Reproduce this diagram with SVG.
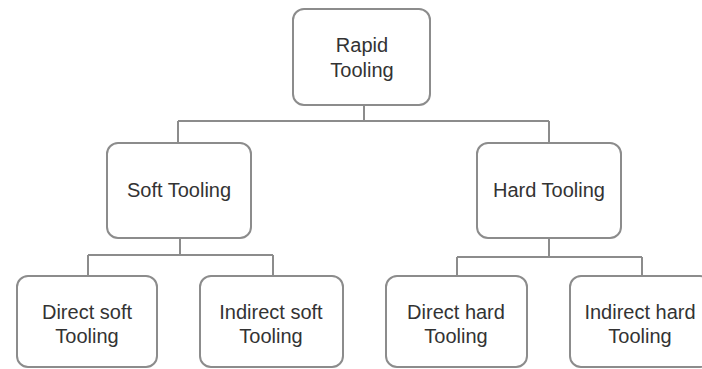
<svg xmlns="http://www.w3.org/2000/svg" width="702" height="369" viewBox="0 0 702 369">
  <style>
    .box { fill: #ffffff; stroke: #8c8c8c; stroke-width: 2; }
    .link { fill: none; stroke: #8c8c8c; stroke-width: 2; }
    .label { font-family: "Liberation Sans", Arial, sans-serif; font-size: 20px; fill: #333333; text-anchor: middle; }
  </style>
  <rect width="702" height="369" fill="#ffffff"/>
  <g id="connectors">
    <path class="link" d="M364 105 V121 M178 121 H549 M178 121 V143 M549 121 V143"/>
    <path class="link" d="M180 238 V255 M88 255 H273 M88 255 V276 M273 255 V276"/>
    <path class="link" d="M549 238 V257 M457 257 H642 M457 257 V276 M642 257 V276"/>
  </g>
  <g id="rapid-tooling">
    <rect class="box" x="293" y="9" width="137" height="96" rx="11"/>
    <text class="label" x="362" y="52">Rapid</text>
    <text class="label" x="362" y="77">Tooling</text>
  </g>
  <g id="soft-tooling">
    <rect class="box" x="107" y="143" width="144" height="95" rx="11"/>
    <text class="label" x="179" y="197">Soft Tooling</text>
  </g>
  <g id="hard-tooling">
    <rect class="box" x="477" y="143" width="144" height="95" rx="11"/>
    <text class="label" x="549" y="197">Hard Tooling</text>
  </g>
  <g id="direct-soft">
    <rect class="box" x="17" y="276" width="140" height="91" rx="11"/>
    <text class="label" x="87" y="319">Direct soft</text>
    <text class="label" x="87" y="343">Tooling</text>
  </g>
  <g id="indirect-soft">
    <rect class="box" x="200" y="276" width="143" height="91" rx="11"/>
    <text class="label" x="271" y="319">Indirect soft</text>
    <text class="label" x="271" y="343">Tooling</text>
  </g>
  <g id="direct-hard">
    <rect class="box" x="386" y="276" width="141" height="91" rx="11"/>
    <text class="label" x="456" y="319">Direct hard</text>
    <text class="label" x="456" y="343">Tooling</text>
  </g>
  <g id="indirect-hard">
    <rect class="box" x="570" y="276" width="141" height="91" rx="11"/>
    <text class="label" x="640" y="319">Indirect hard</text>
    <text class="label" x="640" y="343">Tooling</text>
  </g>
</svg>
